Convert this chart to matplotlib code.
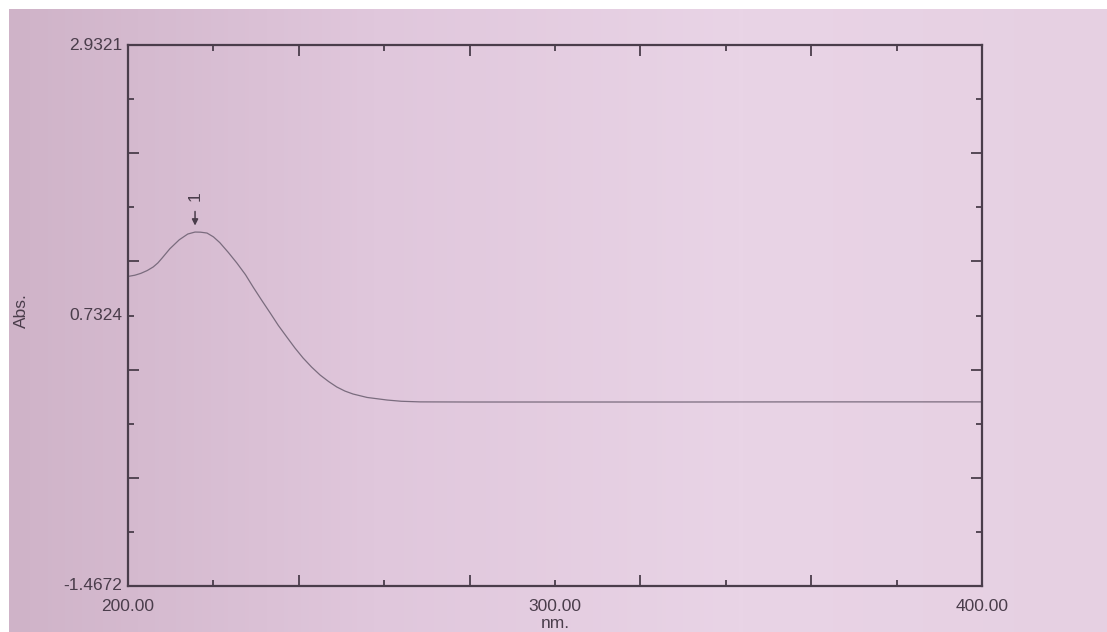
import numpy as np
import matplotlib
matplotlib.use('Agg')
import matplotlib.pyplot as plt
from matplotlib.ticker import FixedLocator
from matplotlib.colors import LinearSegmentedColormap
from matplotlib.transforms import offset_copy

plt.rcParams['font.family'] = ['Liberation Sans', 'DejaVu Sans']

# 光谱数据
wavelength = [200.0, 201.6, 203.0, 204.5, 205.9, 207.0, 208.0, 209.8, 212.0, 214.0,
              215.7, 217.0, 218.5, 220.0, 221.5, 223.5, 225.5, 227.5, 229.3, 231.3,
              233.3, 235.2, 237.2, 239.1, 241.0, 243.0, 245.0, 247.0, 248.9, 250.8,
              252.7, 256.0, 260.7, 264.0, 268.4, 280.0, 300.0, 330.0, 360.0, 400.0]
absorbance = [1.050, 1.060, 1.075, 1.098, 1.127, 1.160, 1.200, 1.275, 1.348, 1.395,
              1.411, 1.410, 1.403, 1.372, 1.325, 1.245, 1.159, 1.065, 0.964, 0.857,
              0.753, 0.652, 0.557, 0.468, 0.387, 0.313, 0.248, 0.195, 0.151, 0.118,
              0.094, 0.066, 0.045, 0.035, 0.030, 0.029, 0.029, 0.029, 0.030, 0.030]

y_min, y_max = -1.4672, 2.9321
y_mid = 0.7324
x_labels = [200, 300, 400]
peak_nm = 215.7
peak_abs = 1.411
peak_name = '1'

ink = '#4a3d4b'
fs = 12.5

fig = plt.figure(figsize=(11.07, 6.32), dpi=100, facecolor='white')

# 照片背景（纸张）
bg = fig.add_axes([0.008, 0, 0.992, 1 - 9 / 632], zorder=-10)
grad = np.linspace(0, 1, 256).reshape(1, -1)
cmap = LinearSegmentedColormap.from_list('paper', ['#cfb3c8', '#e0c7dc', '#e9d4e6', '#e6d0e2'])
bg.imshow(grad, aspect='auto', cmap=cmap, extent=[0, 1, 0, 1])
bg.axis('off')

ax = fig.add_axes([128 / 1107, 1 - 586 / 632, 854 / 1107, 541 / 632])
ax.patch.set_alpha(0)

ax.plot(wavelength, absorbance, color='#7a6c7e', lw=0.9)

ax.set_xlim(200, 400)
ax.set_ylim(y_min, y_max)

for s in ax.spines.values():
    s.set_color(ink)
    s.set_linewidth(1.6)

# 刻度：长短交替
x_long = [240, 280, 320, 360]
x_short = [220, 260, 300, 340, 380]
ax.xaxis.set_major_locator(FixedLocator(x_long))
ax.xaxis.set_minor_locator(FixedLocator(x_short))
step = (y_max - y_min) / 10
y_all = [y_min + i * step for i in range(1, 10)]
ax.yaxis.set_major_locator(FixedLocator([y_all[i] for i in range(1, 9, 2)]))
ax.yaxis.set_minor_locator(FixedLocator([y_all[i] for i in range(0, 9, 2)]))
ax.tick_params(which='major', direction='in', length=8, width=1.3, color=ink,
               top=True, right=True, labelbottom=False, labelleft=False)
ax.tick_params(which='minor', direction='in', length=4.5, width=1.3, color=ink,
               top=True, right=True)

# 轴标签
xlab_tr = offset_copy(ax.get_xaxis_transform(), fig=fig, x=0, y=-13, units='dots')
for xv in x_labels:
    ax.text(xv, 0, '%.2f' % xv, ha='center', va='top', fontsize=fs, color=ink,
            transform=xlab_tr)
nm_tr = offset_copy(ax.get_xaxis_transform(), fig=fig, x=0, y=-30, units='dots')
ax.text(300, 0, 'nm.', ha='center', va='top', fontsize=fs, color=ink, transform=nm_tr)

ylab_tr = offset_copy(ax.get_yaxis_transform(), fig=fig, x=-6, y=0, units='dots')
for yv in [y_min, y_mid, y_max]:
    ax.text(0, yv, '%.4f' % yv, ha='right', va='center', fontsize=fs, color=ink,
            transform=ylab_tr)
fig.text(21 / 1107, 1 - 311 / 632, 'Abs.', rotation=90, ha='center', va='center',
         fontsize=fs, color=ink)

# 峰标记
ax.annotate('', xy=(peak_nm, peak_abs + 0.03), xytext=(peak_nm, peak_abs + 0.19),
            arrowprops=dict(arrowstyle='-|>', color=ink, lw=1.1, mutation_scale=9))
ax.text(peak_nm, peak_abs + 0.29, peak_name, rotation=90, ha='center', va='center',
        fontsize=fs, color=ink)

plt.savefig('out.png', dpi=100, facecolor=fig.get_facecolor())
